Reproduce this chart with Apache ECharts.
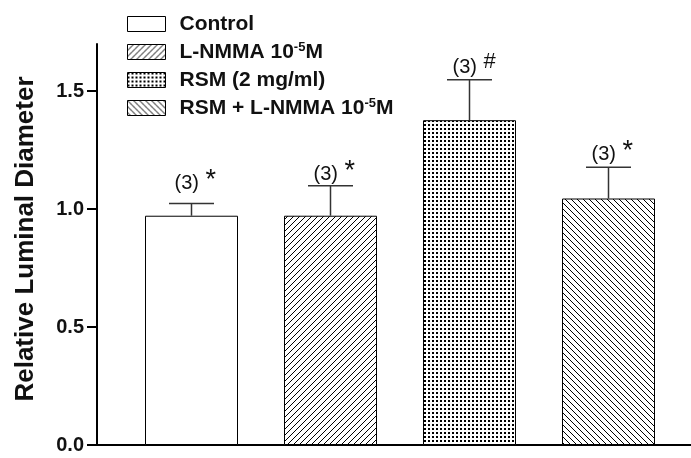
<!DOCTYPE html>
<html>
<head>
<meta charset="utf-8">
<script src="https://cdn.jsdelivr.net/npm/echarts@6/dist/echarts.min.js"></script>
<style>html,body{margin:0;padding:0;background:#fff}#c{width:691px;height:458px}</style>
</head>
<body>
<div id="c"></div>
<script>
// ---- data ----
const categories = ['Control', 'L-NMMA 10-5M', 'RSM (2 mg/ml)', 'RSM + L-NMMA 10-5M'];
const means = [0.972, 0.972, 1.377, 1.045];
const sems = [0.052, 0.127, 0.171, 0.133];
const nLabels = ['(3)', '(3)', '(3)', '(3)'];
const sigMarks = ['*', '*', '#', '*'];
const labelLevels = [1.085, 1.123, 1.575, 1.208];
const yTicks = [0, 0.5, 1.0, 1.5];
const yMax = 1.7;

// ---- patterns ----
function tile(w, h, draw) {
  const c = document.createElement('canvas');
  c.width = w; c.height = h;
  const ctx = c.getContext('2d');
  ctx.fillStyle = '#fff'; ctx.fillRect(0, 0, w, h);
  draw(ctx);
  return { image: c, repeat: 'repeat' };
}
function hatch(forward) {
  return tile(6, 6, ctx => {
    ctx.strokeStyle = '#000'; ctx.lineWidth = 1;
    ctx.beginPath();
    for (let k = -1; k <= 1; k++) {
      if (forward) { ctx.moveTo(k * 6, 6); ctx.lineTo(k * 6 + 6, 0); }
      else { ctx.moveTo(k * 6, 0); ctx.lineTo(k * 6 + 6, 6); }
    }
    ctx.stroke();
  });
}
const dots = tile(4, 4, ctx => { ctx.fillStyle = '#000'; ctx.fillRect(0, 0, 2, 2); });
const fills = ['#ffffff', hatch(true), dots, hatch(false)];

const FONT = '"Liberation Sans", Arial, Helvetica, sans-serif';

const chart = echarts.init(document.getElementById('c'), null, { renderer: 'canvas' });

const barSeries = categories.map((name, i) => ({
  name: name,
  type: 'bar',
  xAxisIndex: 1,
  yAxisIndex: 1,
  barWidth: 93,
  barGap: '-100%',
  data: categories.map((c, j) => (j === i ? means[i] : '-')),
  itemStyle: { color: fills[i], borderColor: '#000', borderWidth: 1 },
  emphasis: { disabled: true },
  silent: true,
  z: 2
}));

const errSeries = {
  type: 'custom',
  xAxisIndex: 1,
  yAxisIndex: 1,
  z: 5,
  silent: true,
  data: categories.map((c, i) => [i, means[i], means[i] + sems[i], labelLevels[i]]),
  renderItem: function (params, api) {
    const i = params.dataIndex;
    const base = api.coord([api.value(0), api.value(1)]);
    const top = api.coord([api.value(0), api.value(2)]);
    const lab = api.coord([api.value(0), api.value(3)]);
    const half = 22.5;
    const st = { stroke: '#333', lineWidth: 1.5 };
    const isStar = sigMarks[i] === '*';
    return {
      type: 'group',
      children: [
        { type: 'line', shape: { x1: base[0], y1: base[1], x2: top[0], y2: top[1] }, style: st },
        { type: 'line', shape: { x1: top[0] - half, y1: top[1], x2: top[0] + half, y2: top[1] }, style: st },
        { type: 'text', style: { text: nLabels[i], x: lab[0] - 17, y: lab[1] + 4, align: 'left', verticalAlign: 'bottom', font: '20px ' + FONT, fill: '#111' } },
        { type: 'text', style: { text: sigMarks[i], x: lab[0] + 14, y: lab[1] - (isStar ? 22 : 23), align: 'left', verticalAlign: 'top', font: (isStar ? '27px ' : '22px ') + FONT, fill: '#111' } }
      ]
    };
  }
};

const option = {
  backgroundColor: '#fff',
  animation: false,
  grid: [
    { left: 97, right: -10, top: 44, bottom: 13 },
    { left: 122, width: 556, top: 44, bottom: 13 }
  ],
  legend: {
    orient: 'vertical',
    left: 122,
    top: 8,
    itemWidth: 38,
    itemHeight: 15,
    itemGap: 6,
    icon: 'rect',
    selectedMode: false,
    data: categories,
    itemStyle: { borderColor: '#000', borderWidth: 1 },
    textStyle: {
      fontFamily: FONT, fontSize: 21, fontWeight: 'bold', color: '#111',
      padding: [0, 0, 0, 9], lineHeight: 22,
      rich: {
        t: { fontFamily: FONT, fontSize: 21, fontWeight: 'bold', color: '#111', lineHeight: 22 },
        s: { fontFamily: FONT, fontSize: 13, fontWeight: 'bold', color: '#111', verticalAlign: 'top', lineHeight: 22, padding: [0, 0, 8, 0] }
      }
    },
    formatter: function (name) {
      if (name.indexOf('10-5') >= 0) {
        const parts = name.split('10-5');
        return '{t|' + parts[0] + '10}{s|-5}{t|' + parts[1] + '}';
      }
      return '{t|' + name + '}';
    }
  },
  xAxis: [
    { type: 'value', gridIndex: 0, min: 0, max: 1,
      axisLine: { show: true, onZero: false, lineStyle: { color: '#000', width: 2 } },
      axisTick: { show: false }, axisLabel: { show: false }, splitLine: { show: false } },
    { type: 'category', gridIndex: 1, data: categories, show: false }
  ],
  yAxis: [
    { type: 'value', gridIndex: 0, min: 0, max: yMax, interval: 0.5,
      name: 'Relative Luminal Diameter', nameLocation: 'middle', nameGap: 58,
      nameTextStyle: { fontFamily: FONT, fontSize: 26, fontWeight: 'bold', color: '#111', padding: [0, 0, 0, 11] },
      axisLine: { show: true, lineStyle: { color: '#000', width: 2 } },
      axisTick: { show: true, length: 10, customValues: yTicks, lineStyle: { color: '#000', width: 2 } },
      axisLabel: { show: true, customValues: yTicks, margin: 13, fontFamily: FONT, fontSize: 20, fontWeight: 'bold', color: '#111',
        formatter: v => Number(v).toFixed(1) },
      splitLine: { show: false } },
    { type: 'value', gridIndex: 1, min: 0, max: yMax, show: false, splitLine: { show: false } }
  ],
  series: barSeries.concat([errSeries])
};
chart.setOption(option);
</script>
</body>
</html>
